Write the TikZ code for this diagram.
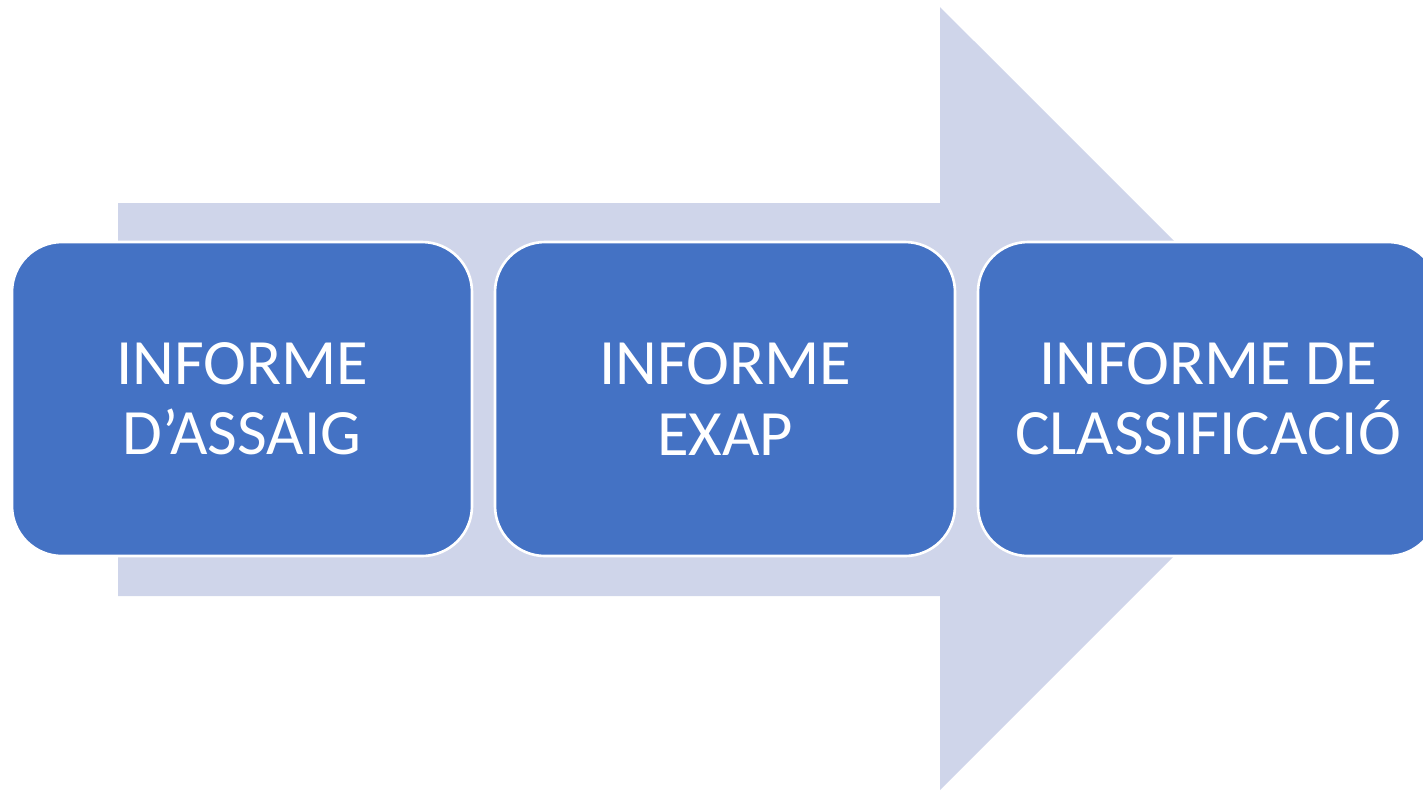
\documentclass[tikz,border=0pt]{standalone}
\usepackage{fontspec}
\setmainfont{Carlito}
\usepackage{xcolor}
\usepackage{tikz}
\usetikzlibrary{positioning}
\definecolor{stepblue}{RGB}{68,114,196}
\definecolor{arrowlav}{RGB}{207,213,234}

\begin{document}
\begin{tikzpicture}[
  stepbox/.style={draw=white, line width=0.75pt, fill=stepblue, rounded corners=0.5cm,
                  text=white, align=center, outer sep=0pt,
                  minimum width=4.6cm, minimum height=3.14cm,
                  font=\fontsize{18.4pt}{20pt}\selectfont},
  node distance=0.23cm
]
\useasboundingbox (0,0) rectangle (14.23,-7.90);
% big background arrow
\fill[arrowlav] (1.18,-2.03) -- (9.40,-2.03) -- (9.40,-0.07) -- (13.315,-3.985)
  -- (9.40,-7.90) -- (9.40,-5.96) -- (1.18,-5.96) -- cycle;

\node[stepbox] (assaig) at (2.42,-3.99) {INFORME\\D’ASSAIG};
\node[stepbox, right=of assaig] (exap) {INFORME\\EXAP};
\node[stepbox, right=of exap] (classif) {INFORME DE\\CLASSIFICACIÓ};
\end{tikzpicture}
\end{document}
